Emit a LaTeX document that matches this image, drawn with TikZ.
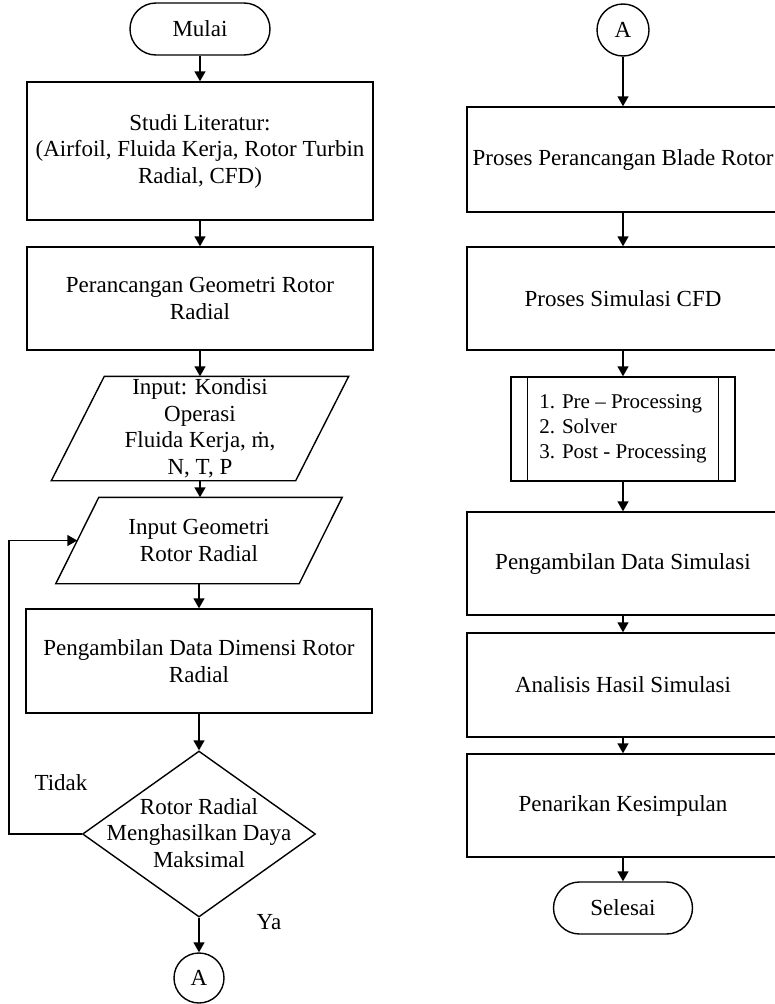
\documentclass[tikz,border=0pt]{standalone}
\usepackage{fontspec}
\setmainfont{Liberation Serif}
\usetikzlibrary{shapes.geometric,arrows.meta}

\begin{document}
\begin{tikzpicture}[x=1pt,y=-1pt,line width=1.4pt,
  >={Triangle[length=10pt,width=11pt]},
  every node/.style={font=\fontsize{23}{26.5}\selectfont},
  process/.style={draw,rectangle,align=center,inner sep=0pt,minimum height=103pt},
  terminal/.style={draw,rectangle,rounded corners=26pt,minimum width=140pt,minimum height=52pt},
  iobox/.style={rectangle,align=center,inner sep=0pt},
  connector/.style={draw,circle,inner sep=0pt},
  decide/.style={draw,diamond,inner sep=0pt,minimum width=233pt,minimum height=166pt}]
\useasboundingbox (0,0) rectangle (775,1004);

% Left column
\node[terminal] (mulai) at (200,29) {Mulai};
\node[process,minimum width=346pt,minimum height=138pt] (studi) at (200,151) {Studi Literatur:\\(Airfoil, Fluida Kerja, Rotor Turbin\\Radial, CFD)};
\node[process,minimum width=346pt] (rancang) at (200,298.5) {Perancangan Geometri Rotor\\Radial};
\node[iobox,minimum width=243pt,minimum height=103pt] (kondisi) at (200,428.5) {Input: Kondisi\\Operasi\\Fluida Kerja, \.{m},\\N, T, P};
\draw ([xshift=-26.5pt]kondisi.south west) -- ([xshift=26.5pt]kondisi.north west) -- ([xshift=26.5pt]kondisi.north east) -- ([xshift=-26.5pt]kondisi.south east) -- cycle;
\node[iobox,minimum width=242pt,minimum height=85pt] (geometri) at (199,540.5) {Input Geometri\\Rotor Radial};
\draw ([xshift=-21.5pt]geometri.south west) -- ([xshift=21.5pt]geometri.north west) -- ([xshift=21.5pt]geometri.north east) -- ([xshift=-21.5pt]geometri.south east) -- cycle;
\node[process,minimum width=346pt,minimum height=104pt] (dimensi) at (199,661) {Pengambilan Data Dimensi Rotor\\Radial};
\node[decide] (cek) at (199,834) {};
\node[align=center] (cektext) at (199,833) {Rotor Radial\\Menghasilkan Daya\\Maksimal};
\node[connector,minimum size=50pt] (akhir) at (199,978) {A};

% Right column
\node[connector,minimum size=52pt] (awal) at (623,30) {A};
\node[process,minimum width=312pt,minimum height=105pt] (blade) at (623,159.5) {Proses Perancangan Blade Rotor};
\node[process,minimum width=312pt] (cfd) at (623,298.5) {Proses Simulasi CFD};
\node[process,minimum width=224pt,minimum height=104pt,align=left,font=\fontsize{21}{25}\selectfont] (tahap) at (623,429) {1. Pre – Processing\\2. Solver\\3. Post - Processing};
\draw ([xshift=17pt]tahap.north west) -- ([xshift=17pt]tahap.south west);
\draw ([xshift=-17pt]tahap.north east) -- ([xshift=-17pt]tahap.south east);
\node[process,minimum width=312pt] (data) at (623,563.5) {Pengambilan Data Simulasi};
\node[process,minimum width=312pt,minimum height=104pt] (analisis) at (623,685) {Analisis Hasil Simulasi};
\node[process,minimum width=312pt] (simpul) at (623,805.5) {Penarikan Kesimpulan};
\node[terminal,minimum width=139pt] (selesai) at (623,908) {Selesai};

% Arrows
\draw[->] (mulai) -- (studi);
\draw[->] (studi) -- (rancang);
\draw[->] (rancang) -- (kondisi);
\draw[->] (kondisi.south) -- (kondisi.south |- geometri.north);
\draw[->] (geometri) -- (dimensi);
\draw[->] (dimensi) -- (cek);
\draw[->] (cek) -- (akhir);
\draw[->] (awal) -- (blade);
\draw[->] (blade) -- (cfd);
\draw[->] (cfd) -- (tahap);
\draw[->] (tahap) -- (data);
\draw[->] (data) -- (analisis);
\draw[->] (analisis) -- (simpul);
\draw[->] (simpul) -- (selesai);

% Loop back
\coordinate (balik) at (9,834);
\draw[->] (cek.west) -- (balik) |- (geometri.west);
\node (tidak) at (61,783) {Tidak};
\node (ya) at (269,922) {Ya};
\end{tikzpicture}
\end{document}
